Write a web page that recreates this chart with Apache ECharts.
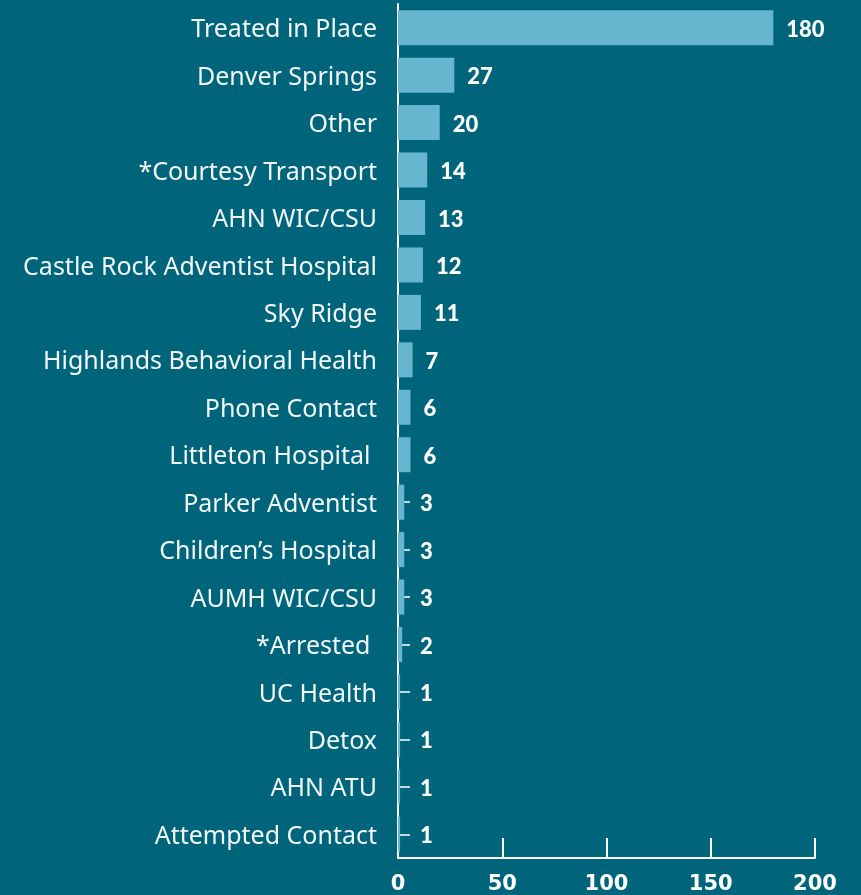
<!DOCTYPE html>
<html><head><meta charset="utf-8">
<script src="https://cdn.jsdelivr.net/npm/echarts@6/dist/echarts.min.js"></script>
<style>html,body{margin:0;padding:0;background:#00657b;}#c{width:861px;height:895px;}</style>
</head><body><div id="c"></div>
<script>
const categories = ["Treated in Place","Denver Springs","Other","*Courtesy Transport","AHN WIC/CSU","Castle Rock Adventist Hospital","Sky Ridge","Highlands Behavioral Health","Phone Contact","Littleton Hospital ","Parker Adventist","Children\u2019s Hospital","AUMH WIC/CSU","*Arrested ","UC Health","Detox","AHN ATU","Attempted Contact"];
const values = [180,27,20,14,13,12,11,7,6,6,3,3,3,2,1,1,1,1];
const xTicks = [0,50,100,150,200];

const chart = echarts.init(document.getElementById('c'));
chart.setOption({
  backgroundColor:'#00657b',
  animation:false,
  grid:{left:398,right:46,top:4,bottom:35,containLabel:false},
  xAxis:{type:'value',min:xTicks[0],max:xTicks[xTicks.length-1],interval:xTicks[1]-xTicks[0],
    axisLine:{show:true,lineStyle:{color:'#ffffff',width:2}},
    axisTick:{show:true,inside:true,length:20,lineStyle:{color:'#ffffff',width:2}},
    splitLine:{show:false},
    axisLabel:{color:'#ffffff',fontFamily:'DejaVu Sans',fontWeight:'bold',fontSize:21,margin:16}},
  yAxis:{type:'category',inverse:true,data:categories,
    axisLine:{show:true,lineStyle:{color:'#ffffff',width:2}},
    axisTick:{show:true,inside:true,length:12,alignWithLabel:true,lineStyle:{color:'#ffffff',width:1.5}},
    axisLabel:{margin:21,formatter:v=>'{a|'+v+'}',
      rich:{a:{color:'#f2f7f9',fontFamily:'Noto Sans',fontSize:25,padding:[5,0,0,0]}}}},
  series:[{type:'bar',barWidth:35,z:3,
    itemStyle:{color:'#66b6d0'},
    data:values.map(v=>({value:v,label:{distance:Math.max(13,22-v*2.07)}})),
    label:{show:true,position:'right',formatter:p=>'{b|'+p.value+'}',
      rich:{b:{color:'#ffffff',fontFamily:'Lato',fontWeight:900,fontSize:22,padding:[4,0,0,0]}}}}]
});
</script></body></html>
